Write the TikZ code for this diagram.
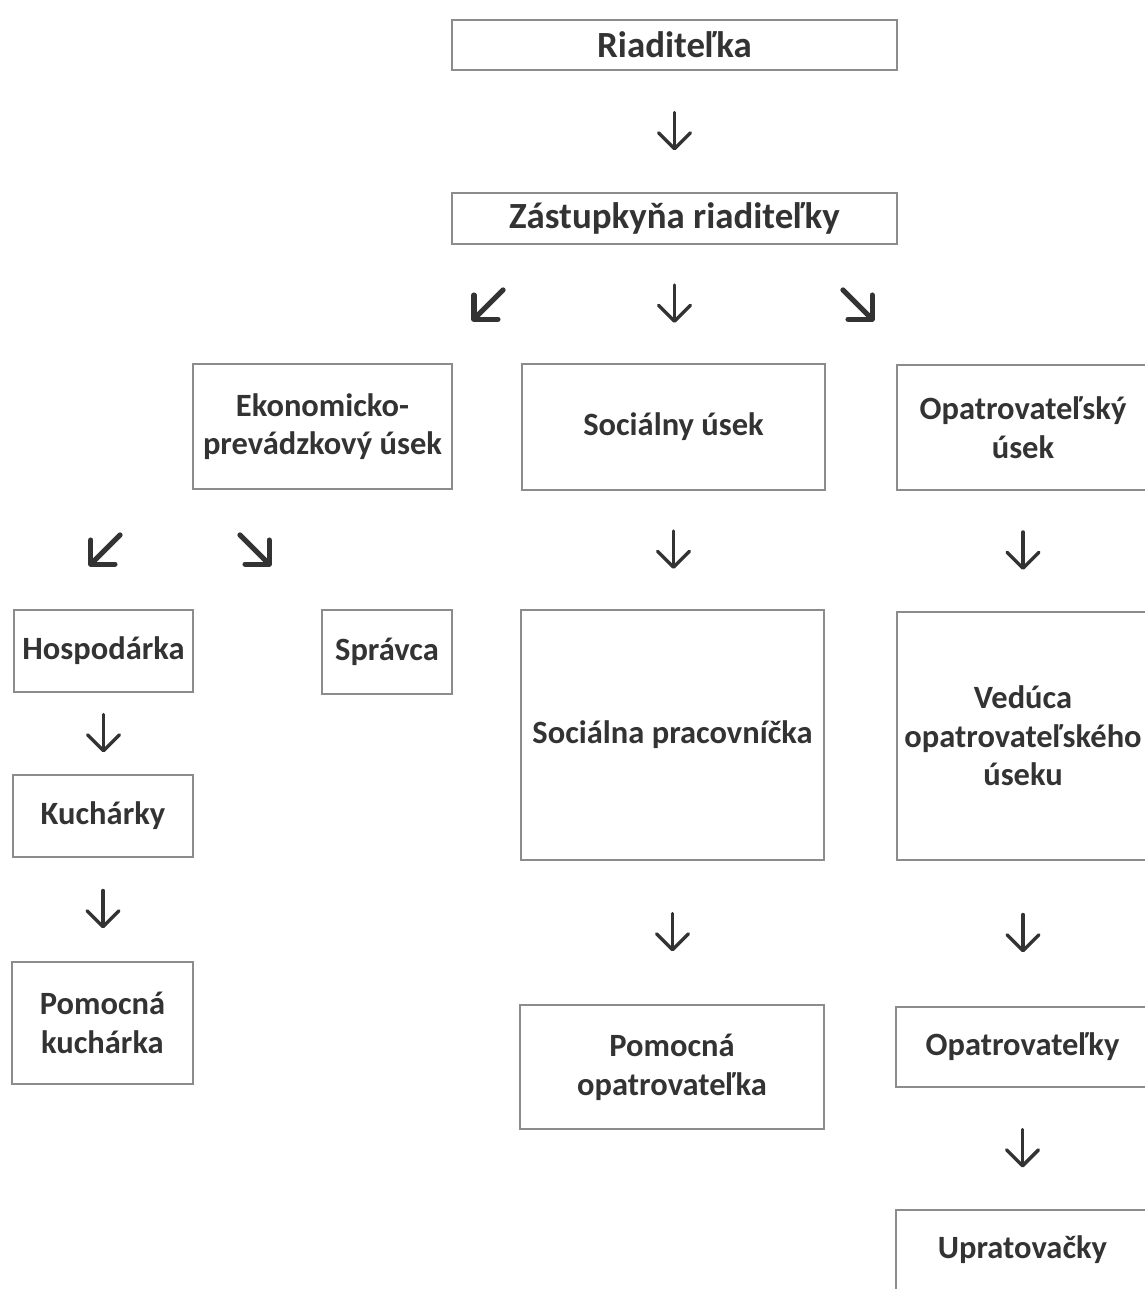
\documentclass[tikz,border=0pt]{standalone}
\usepackage{fontspec}
\setmainfont{Carlito}
\usetikzlibrary{arrows.meta,calc}

\tikzset{
  box/.style={draw=black!45, line width=1.2pt, text=black!80, align=center,
    font=\bfseries\fontsize{18.5}{22}\selectfont, inner sep=0pt},
  hlavny/.style={box, font=\bfseries\fontsize{21}{24}\selectfont},
  wh/.style 2 args={minimum width=#1*0.02cm, minimum height=#2*0.02cm},
  pil/.style={black!80, line width=2pt, line cap=round,
    -{Straight Barb[length=0.32cm,width=0.64cm,round]},
    to path={($(\tikztostart.south)!.5!(\tikztostart.south |- \tikztotarget.north)+(0,-19)$)
      -- ($(\tikztostart.south)!.5!(\tikztostart.south |- \tikztotarget.north)+(0,19)$)}},
  sikmo/.style={black!80, line width=3pt, line cap=round,
    -{Straight Barb[length=0.34cm,width=0.68cm,round]}},
}

\begin{document}
\begin{tikzpicture}[x=0.02cm,y=-0.02cm]
\useasboundingbox (0,0) rectangle (1145,1289);
\clip (0,0) rectangle (1145,1289);

% vedenie
\node[hlavny, wh={445}{50}] (riad) at (674.5,45) {Riaditeľka};
\node[hlavny, wh={445}{51}] (zast) at (674.5,218.5) {Zástupkyňa riaditeľky};

% useky
\node[box, wh={259}{125}] (ekon) at (322.5,426.5) {Ekonomicko-\\prevádzkový úsek};
\node[box, wh={303}{126}] (soc) at (673.5,427) {Sociálny úsek};
\node[box, wh={252}{125}] (opu) at (1023,427.5) {Opatrovateľský\\úsek};

% zamestnanci
\node[box, wh={179}{82}] (hosp) at (103.5,651) {Hospodárka};
\node[box, wh={130}{84}] (sprav) at (387,652) {Správca};
\node[box, wh={303}{250}] (prac) at (672.5,735) {Sociálna pracovníčka};
\node[box, wh={252}{248}] (ved) at (1023,736) {Vedúca\\opatrovateľského\\úseku};
\node[box, wh={180}{82}] (kuch) at (103,816) {Kuchárky};
\node[box, wh={181}{122}] (pomk) at (102.5,1023) {Pomocná\\kuchárka};
\node[box, wh={304}{124}] (pomo) at (672,1067) {Pomocná\\opatrovateľka};
\node[box, wh={253}{80}] (opat) at (1022.5,1047) {Opatrovateľky};
\node[box, wh={253}{80}] (uprat) at (1022.5,1250) {Upratovačky};

% sipky dole
\draw[pil] (riad) to (zast);
\draw[pil] (zast) to (soc);
\draw[pil] (soc) to (prac);
\draw[pil] (opu) to (ved);
\draw[pil] (hosp) to (kuch);
\draw[pil] (kuch) to (pomk);
\draw[pil] (prac) to (pomo);
\draw[pil] (ved) to (opat);
\draw[pil] (opat) to (uprat);

% sikme sipky
\coordinate (zastL) at (503,290);
\coordinate (ekonT) at (472,321);
\coordinate (zastR) at (843,290);
\coordinate (opuT) at (874,321);
\coordinate (ekonL) at (120,535);
\coordinate (hospT) at (89,566);
\coordinate (ekonR) at (240,535);
\coordinate (spravT) at (271,566);
\draw[sikmo] (zastL) -- (ekonT);
\draw[sikmo] (zastR) -- (opuT);
\draw[sikmo] (ekonL) -- (hospT);
\draw[sikmo] (ekonR) -- (spravT);

\end{tikzpicture}
\end{document}
